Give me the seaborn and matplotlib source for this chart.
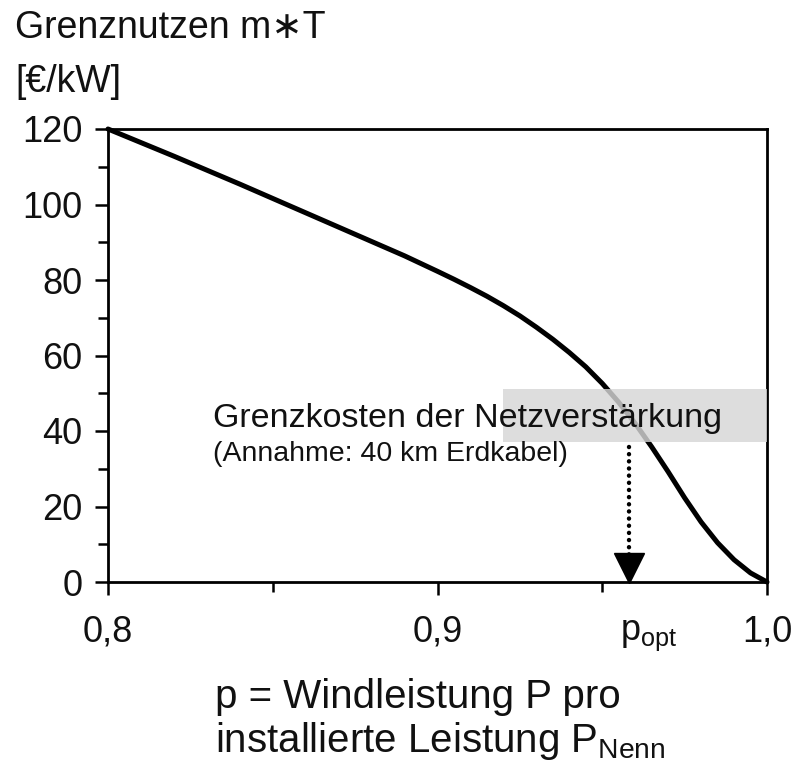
import numpy as np
import pandas as pd
import seaborn as sns
import matplotlib
matplotlib.use("Agg")
import matplotlib.pyplot as plt
from matplotlib.patches import Rectangle
from matplotlib.ticker import MultipleLocator, FixedLocator, FixedFormatter
import matplotlib.transforms as mtransforms

# ---- data ----
p_values = [0.80, 0.82, 0.84, 0.86, 0.88, 0.89, 0.90, 0.905, 0.91, 0.915,
            0.92, 0.925, 0.93, 0.935, 0.94, 0.945, 0.95, 0.955, 0.96, 0.965,
            0.97, 0.975, 0.98, 0.985, 0.99, 0.995, 1.0]
m_values = [120.0, 112.8, 105.4, 97.8, 90.2, 86.4, 82.3, 80.2, 78.0, 75.7,
            73.2, 70.5, 67.5, 64.3, 60.8, 57.0, 52.6, 47.6, 42.0, 35.8,
            29.2, 22.3, 15.9, 10.4, 5.9, 2.4, 0.0]
x_ticks = [0.8, 0.9, 1.0]
x_tick_labels = ["0,8", "0,9", "1,0"]
y_ticks = [0, 20, 40, 60, 80, 100, 120]
p_opt = 0.958
cost_band = [37, 51]          # Grenzkosten der Netzverstärkung (range)
cost_band_p = [0.92, 1.0]

df = pd.DataFrame({"p": p_values, "m": m_values})

sns.set_theme(style="ticks")
plt.rcParams["font.family"] = ["Liberation Sans", "DejaVu Sans"]
plt.rcParams["mathtext.fontset"] = "custom"
plt.rcParams["mathtext.rm"] = "Liberation Sans"
plt.rcParams["mathtext.it"] = "Liberation Sans"

TXT = "#111111"
W, H = 796, 769
fig = plt.figure(figsize=(W / 100, H / 100), dpi=100)
ax = fig.add_axes([108 / W, 1 - 582 / H, (767 - 108) / W, (582 - 129) / H])

sns.lineplot(data=df, x="p", y="m", color="black", linewidth=3.6, ax=ax,
             zorder=2, clip_on=False)
ax.lines[-1].set_solid_joinstyle("round")

ax.set_xlim(0.8, 1.0)
ax.set_ylim(0, 120)
ax.xaxis.set_major_locator(FixedLocator(x_ticks))
ax.xaxis.set_major_formatter(FixedFormatter(x_tick_labels))
ax.xaxis.set_minor_locator(MultipleLocator(0.05))
ax.yaxis.set_major_locator(FixedLocator(y_ticks))
ax.yaxis.set_minor_locator(MultipleLocator(10))
ax.set_xlabel("")
ax.set_ylabel("")

for s in ax.spines.values():
    s.set_visible(True)
    s.set_color("black")
    s.set_linewidth(2.0)

ax.tick_params(which="both", direction="out", color="black", width=1.8,
               top=False, right=False, bottom=True, left=True,
               labelcolor=TXT, labelsize=26)
ax.tick_params(which="major", length=9.5)
ax.tick_params(which="minor", length=7)
ax.tick_params(axis="y", which="major", pad=9)
ax.tick_params(axis="x", which="major", pad=14)

# cost band
ax.add_patch(Rectangle((cost_band_p[0], cost_band[0]),
                       cost_band_p[1] - cost_band_p[0], cost_band[1] - cost_band[0],
                       facecolor="#d6d6d6", edgecolor="none", alpha=0.82, zorder=3))

ax.text(0.8319, 41.0, "Grenzkosten der Netzverstärkung", fontsize=24.5,
        color=TXT, ha="left", va="baseline", zorder=4)
ax.text(0.8319, 32.0, "(Annahme: 40 km Erdkabel)", fontsize=20.5,
        color=TXT, ha="left", va="baseline", zorder=4)

# dotted arrow down to p_opt
ax.plot([p_opt, p_opt], [cost_band[0] - 1.2, 4], color="black", linewidth=3.2,
        linestyle=(0, (0.01, 1.6)), dash_capstyle="round", zorder=4)
tri = mtransforms.offset_copy(ax.transData, fig=fig, x=0, y=10.4, units="points")
ax.plot([p_opt], [0], marker="v", markersize=21, color="black",
        transform=tri, clip_on=False, zorder=5, linestyle="none")

ax.annotate("p$_{\\mathrm{opt}}$", xy=(p_opt, 0), xycoords="data",
            xytext=(-6, -42), textcoords="offset points",
            ha="left", va="baseline", fontsize=26, color=TXT, annotation_clip=False)

# axis titles
fig.text(15 / W, 1 - 38 / H, "Grenznutzen m\u2217T", fontsize=27, color=TXT,
         ha="left", va="baseline")
fig.text(15 / W, 1 - 92 / H, "[€/kW]", fontsize=27, color=TXT,
         ha="left", va="baseline")
fig.text(215 / W, 1 - 708 / H, "p = Windleistung P pro", fontsize=29, color=TXT,
         ha="left", va="baseline")
fig.text(215 / W, 1 - 752 / H, "installierte Leistung P$_{\\mathrm{Nenn}}$",
         fontsize=29, color=TXT, ha="left", va="baseline")

fig.savefig("out.png", dpi=100, facecolor="white")
